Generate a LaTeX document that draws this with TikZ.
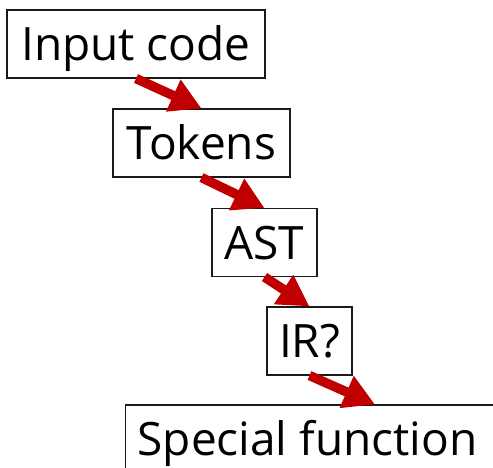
\documentclass[tikz,border=0pt]{standalone}
\usepackage{fontspec}
\setmainfont{Open Sans}
\usetikzlibrary{arrows.meta,positioning}
\definecolor{StageRed}{HTML}{C00000}
\definecolor{BoxLine}{HTML}{1A1A1A}

\begin{document}
\begin{tikzpicture}[x=1pt,y=-1pt,font=\fontsize{46}{50}\selectfont,
    stage/.style={draw=BoxLine,line width=1.1pt,minimum height=68pt,inner xsep=12pt,inner ysep=0pt,
      text height=33pt,text depth=0pt},
    flow/.style={draw=StageRed,line width=9.5pt,-{Triangle[length=31pt,width=33pt]}}]
  \useasboundingbox (0,0) rectangle (493,468);
  \node[stage,minimum width=258pt] (input) at (136,44) {Input code};
  \node[stage,minimum width=177pt] (tokens) at (201.5,143) {Tokens};
  \node[stage,minimum width=105pt] (ast) at (264.5,242.5) {AST};
  \node[stage,minimum width=85pt] (ir) at (309.5,341) {IR?};
  \node[stage,anchor=west] (special) at (125,439) {\makebox[360pt][l]{Special function}};
  \coordinate (specialin) at ([xshift=250pt]special.north west);
  % pipeline arrows
  \draw[flow] (input.south) -- (tokens.north);
  \draw[flow] (tokens.south) -- (ast.north);
  \draw[flow] (ast.south) -- (ir.north);
  \draw[flow] (ir.south) -- (specialin);
\end{tikzpicture}
\end{document}
